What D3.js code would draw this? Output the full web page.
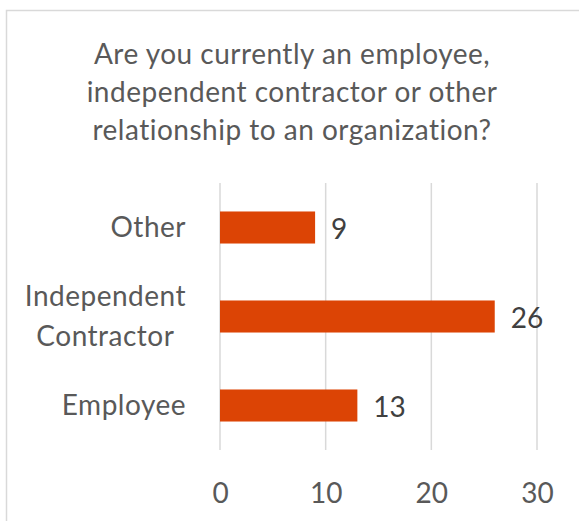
<!DOCTYPE html>
<html>
<head>
<meta charset="utf-8">
<script src="https://cdn.jsdelivr.net/npm/d3@7"></script>
<style>
  html, body { margin: 0; padding: 0; background: #fff; }
  svg { display: block; font-family: Lato, "Open Sans", sans-serif; }
</style>
</head>
<body>
<svg id="chart" width="579" height="521"></svg>
<script>
// Survey answers, listed top to bottom as drawn
const categories = ["Other", "Independent Contractor", "Employee"];
const categoryLines = [["Other"], ["Independent", "Contractor"], ["Employee"]];
const counts = [9, 26, 13];
const tickValues = [0, 10, 20, 30];
const titleLines = [
  "Are you currently an employee,",
  "independent contractor or other",
  "relationship to an organization?"
];

const svg = d3.select("#chart");
const W = 579, H = 521;

// chart area frame
svg.append("rect")
  .attr("x", 6.5).attr("y", 10.5)
  .attr("width", W + 10).attr("height", H + 10)
  .attr("fill", "#fff")
  .attr("stroke", "#d9d9d9")
  .attr("stroke-width", 1.5);

// title
svg.append("g")
  .selectAll("text")
  .data(titleLines)
  .join("text")
  .attr("x", 292)
  .attr("y", (d, i) => 64 + i * 38)
  .attr("text-anchor", "middle")
  .attr("font-size", 28)
  .attr("letter-spacing", 0.5)
  .attr("fill", "#595959")
  .text(d => d);

const x = d3.scaleLinear().domain([0, 30]).range([220, 537]);
const y = d3.scaleBand()
  .domain(categories)
  .range([183, 450])
  .paddingInner(0.64)
  .paddingOuter(0.32);

// vertical gridlines
svg.append("g")
  .selectAll("line")
  .data(tickValues)
  .join("line")
  .attr("x1", d => x(d)).attr("x2", d => x(d))
  .attr("y1", 183).attr("y2", 450)
  .attr("stroke", "#d9d9d9")
  .attr("stroke-width", 1.5);

// x axis labels
const xAxis = d3.axisBottom(x).tickValues(tickValues).tickSize(0).tickPadding(0);
const gx = svg.append("g").attr("transform", "translate(0,503)").call(xAxis);
gx.select(".domain").remove();
gx.selectAll("text")
  .attr("dy", 0)
  .attr("y", 0)
  .attr("font-family", "Lato, 'Open Sans', sans-serif")
  .attr("font-size", 28)
  .attr("fill", "#595959");

// bars
svg.append("g")
  .selectAll("rect")
  .data(categories)
  .join("rect")
  .attr("x", x(0))
  .attr("y", d => y(d))
  .attr("width", (d, i) => x(counts[i]) - x(0))
  .attr("height", y.bandwidth())
  .attr("fill", "#dc4405");

// value labels
svg.append("g")
  .selectAll("text")
  .data(categories)
  .join("text")
  .attr("x", (d, i) => x(counts[i]) + 16)
  .attr("y", d => y(d) + y.bandwidth() / 2 + 11)
  .attr("font-size", 28)
  .attr("fill", "#404040")
  .text((d, i) => counts[i]);

// category labels: the block is right-aligned to the axis,
// lines inside a wrapped label are centred on each other
const labelRight = 186;
const cat = svg.append("g")
  .selectAll("text")
  .data(categories)
  .join("text")
  .attr("text-anchor", "middle")
  .attr("font-size", 28)
  .attr("letter-spacing", 0.5)
  .attr("fill", "#595959")
  .attr("transform", d => `translate(0,${y(d) + y.bandwidth() / 2})`);

cat.selectAll("tspan")
  .data((d, i) => categoryLines[i].map((t, j, arr) => ({ t, j, n: arr.length })))
  .join("tspan")
  .attr("y", d => 9 + (d.j - (d.n - 1) / 2) * 40)
  .text(d => d.t);

cat.each(function () {
  const spans = d3.select(this).selectAll("tspan");
  let maxW = 0;
  spans.each(function () { maxW = Math.max(maxW, this.getComputedTextLength()); });
  spans.attr("x", labelRight - maxW / 2);
});
</script>
</body>
</html>
